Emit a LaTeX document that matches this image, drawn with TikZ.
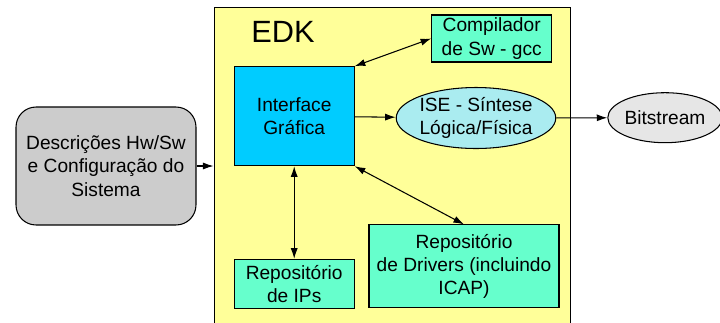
\documentclass[tikz,border=0pt]{standalone}
\usepackage{fontspec}
\setmainfont{Liberation Sans}
\usetikzlibrary{shapes.geometric}
\usetikzlibrary{arrows.meta}
\definecolor{edkyellow}{RGB}{255,255,153}
\definecolor{toolgreen}{RGB}{102,255,204}
\definecolor{guiblue}{RGB}{0,204,255}
\definecolor{isecyan}{RGB}{170,236,240}
\definecolor{bitgray}{RGB}{230,230,230}
\definecolor{descgray}{RGB}{204,204,204}
\tikzset{
    >={Latex[length=6pt,width=4pt]},
    every node/.style={font=\fontsize{10.9}{13.3}\selectfont,align=center,inner sep=0pt},
    toolbox/.style={draw,line width=0.6pt,fill=toolgreen},
    oval/.style={draw,line width=0.6pt,ellipse},
    link/.style={line width=0.6pt,<->},
    flow/.style={line width=0.6pt,->},
}

\begin{document}
\begin{tikzpicture}[x=0.02cm,y=-0.02cm]
\clip (0,0) rectangle (720,322);
\fill[white] (0,0) rectangle (720,322);
% EDK environment
\node[draw,line width=0.6pt,fill=edkyellow,minimum width=7.14cm,minimum height=6.66cm] (edk) at (392.5,173.5) {};
\node[font=\fontsize{17.5}{20}\selectfont] (edklabel) at (283,32) {EDK};
% blocks
\node[draw,line width=0.6pt,fill=descgray,rounded corners=0.4cm,minimum width=3.6cm,minimum height=2.36cm] (desc) at (106,166) {Descrições Hw/Sw\\e Configuração do\\Sistema};
\node[toolbox,minimum width=2.4cm,minimum height=0.94cm] (comp) at (491.7,38.5) {Compilador\\de Sw - gcc};
\node[draw,line width=0.6pt,fill=guiblue,minimum width=2.4cm,minimum height=1.98cm] (gui) at (294.2,116.2) {Interface\\Gráfica};
\node[oval,fill=isecyan,minimum width=3.02cm,minimum height=1.22cm] (ise) at (476,118) {ISE - Síntese\\Lógica/Física};
\node[oval,fill=bitgray,minimum width=2.16cm,minimum height=1.0cm] (bits) at (665,117.7) {Bitstream};
\node[toolbox,minimum width=2.4cm,minimum height=0.98cm] (ips) at (294.2,283.8) {Repositório\\de IPs};
\node[toolbox,minimum width=3.8cm,minimum height=1.66cm] (drv) at (464,266.4) {Repositório\\de Drivers (incluindo\\ICAP)};
% connections
\draw[flow] (desc.east) -- (desc.east -| edk.west);
\draw[flow] (gui) -- (ise);
\draw[flow] (ise) -- (bits);
\draw[link] (gui.north east) -- (comp.west);
\draw[link] (gui.south) -- (ips.north);
\draw[link] (gui.south east) -- (drv.north);
\end{tikzpicture}
\end{document}
